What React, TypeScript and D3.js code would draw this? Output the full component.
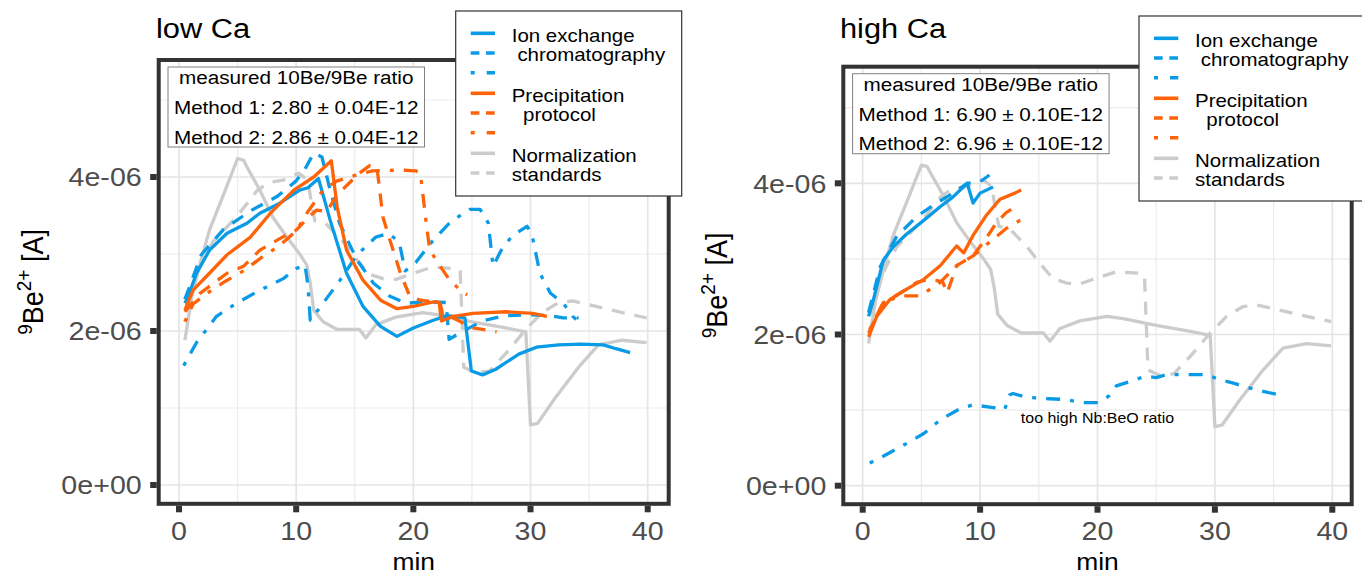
import React from 'react';
import * as d3 from 'd3';

const BLUE = '#0a9be6';
const ORANGE = '#ff6309';
const GREY = '#cccccc';
const FONT = "'Liberation Sans', Arial, Helvetica, sans-serif";
const SX = 1.1; // the original export is a bit stretched horizontally

const xTicks = [0, 10, 20, 30, 40];
const xMinor = [5, 15, 25, 35];
const yTicks = [0, 2, 4];
const yTickLabels = ['0e+00', '2e-06', '4e-06'];
const yMinor = [1, 3, 5];

// [min, 9Be current in 1e-6 A]
// normalization standards, same runs shown in both panels
const normSolid: [number, number][] = [
  [0.5, 1.88], [1.1, 2.45], [1.8, 2.88], [2.6, 3.31], [3.8, 3.77], [5.0, 4.24], [5.5, 4.22],
  [5.8, 4.13], [6.9, 3.83], [8.0, 3.48], [9.2, 3.22], [10.3, 3.0], [10.9, 2.86], [11.2, 2.62],
  [11.5, 2.27], [12.3, 2.12], [13.5, 2.02], [15.4, 2.02], [15.95, 1.91], [16.8, 2.08], [18.5, 2.18],
  [20.8, 2.24], [22.2, 2.21], [25.0, 2.12], [27.9, 2.04], [29.6, 1.99], [30.0, 0.78], [30.6, 0.8],
  [32.1, 1.13], [34.1, 1.53], [35.8, 1.82], [37.8, 1.88], [39.9, 1.85],
];
const normDashed: [number, number][] = [
  [0.6, 2.25], [1.1, 2.55], [2.0, 2.9], [2.9, 3.16], [4.9, 3.48], [6.7, 3.83], [7.7, 3.93],
  [8.9, 3.96], [10.2, 4.05], [11.0, 3.96], [11.3, 3.66], [11.6, 3.43], [12.5, 3.4], [14.0, 3.16],
  [15.1, 2.94], [16.2, 2.74], [17.4, 2.68], [18.5, 2.67], [20.2, 2.76], [21.6, 2.83], [23.6, 2.81],
  [24.0, 2.78], [24.3, 1.53], [25.3, 1.46], [26.5, 1.48], [27.9, 1.71], [29.6, 2.02], [31.0, 2.24],
  [32.4, 2.37], [33.6, 2.39], [35.6, 2.32], [37.8, 2.24], [39.9, 2.17],
];

// low Ca
const ionSolidLow: [number, number][] = [
  [0.5, 2.36], [0.7, 2.42], [1.5, 2.75], [2.6, 3.05], [4.1, 3.27], [5.8, 3.4], [6.9, 3.53],
  [8.6, 3.66], [10.3, 3.83], [11.0, 3.86], [11.9, 3.98], [12.9, 3.44], [14.3, 2.75], [15.7, 2.32],
  [17.2, 2.06], [18.6, 1.93], [20.0, 2.04], [21.7, 2.14], [22.9, 2.2], [24.4, 2.17], [24.95, 1.48],
  [25.9, 1.43], [27.0, 1.5], [29.0, 1.7], [30.5, 1.79], [32.4, 1.82], [34.3, 1.83], [36.2, 1.82],
  [37.3, 1.77], [38.5, 1.72],
];
const ionDashedLow: [number, number][] = [
  [0.5, 2.41], [1.9, 2.99], [3.8, 3.32], [6.1, 3.56], [8.4, 3.75], [10.0, 3.95], [10.7, 4.09],
  [11.5, 4.31], [12.2, 4.26], [12.9, 3.83], [13.7, 3.4], [15.2, 2.92], [16.6, 2.62], [18.0, 2.45],
  [19.4, 2.36], [21.0, 2.38], [22.8, 2.37], [23.05, 1.89], [23.9, 1.97], [25.9, 2.13], [27.8, 2.2],
  [29.7, 2.21], [31.6, 2.2], [32.8, 2.17], [34.1, 2.17],
];
const ionDotdashLow: [number, number][] = [
  [0.4, 1.55], [1.5, 1.85], [3.2, 2.19], [4.9, 2.36], [6.9, 2.53], [8.9, 2.68], [10.0, 2.81],
  [10.75, 2.86], [11.0, 2.6], [11.2, 2.14], [12.0, 2.3], [13.7, 2.65], [15.2, 2.99], [16.8, 3.22],
  [17.9, 3.27], [18.8, 3.15], [19.3, 2.78], [20.2, 2.89], [21.7, 3.18], [23.2, 3.42], [24.8, 3.58],
  [25.7, 3.58], [26.4, 3.4], [26.8, 2.84], [27.5, 3.05], [28.4, 3.23], [29.7, 3.36], [30.1, 3.27],
  [30.8, 2.75], [31.7, 2.49], [32.8, 2.36], [33.6, 2.19], [33.9, 2.15],
];
const precSolidLow: [number, number][] = [
  [0.5, 2.27], [1.2, 2.53], [2.6, 2.75], [4.1, 2.99], [6.1, 3.22], [7.8, 3.53], [9.8, 3.83],
  [11.5, 4.0], [13.0, 4.21], [13.5, 3.61], [14.3, 3.05], [15.7, 2.66], [17.2, 2.4], [18.6, 2.29],
  [20.0, 2.32], [21.8, 2.38], [22.2, 2.37], [22.4, 2.13], [23.4, 2.19], [25.1, 2.23], [27.9, 2.25],
  [30.2, 2.23], [31.4, 2.19],
];
const precDashedLow: [number, number][] = [
  [0.5, 2.25], [1.8, 2.49], [4.1, 2.75], [5.5, 2.84], [6.9, 3.05], [8.6, 3.2], [10.0, 3.31],
  [11.2, 3.5], [11.75, 3.57], [12.6, 3.55], [13.5, 3.77], [15.4, 4.05], [16.3, 4.15], [16.9, 4.12],
  [17.4, 3.48], [18.0, 3.18], [18.9, 2.75], [19.7, 2.45], [20.6, 2.4], [21.7, 2.38], [22.3, 2.36],
  [22.5, 2.2], [23.4, 2.17], [25.1, 2.04], [27.1, 1.99],
];
const precDotdashLow: [number, number][] = [
  [0.5, 2.12], [1.2, 2.35], [2.5, 2.5], [4.0, 2.65], [5.5, 2.78], [7.0, 2.95], [8.5, 3.1],
  [10.0, 3.3], [11.0, 3.55], [12.3, 3.83], [13.5, 3.95], [15.0, 4.02], [16.5, 4.08], [18.9, 4.09],
  [20.2, 4.08], [20.6, 4.05], [20.8, 3.79], [21.1, 3.4], [21.4, 3.05], [22.3, 2.84], [23.1, 2.66],
  [24.3, 2.49], [24.6, 2.47],
];

// high Ca
const ionSolidHigh: [number, number][] = [
  [0.5, 2.24], [0.9, 2.45], [1.75, 2.98], [2.6, 3.16], [3.75, 3.33], [5.2, 3.51], [6.6, 3.69],
  [7.7, 3.82], [8.9, 4.0], [9.4, 3.74], [10.0, 3.87], [11.1, 3.95],
];
const ionDashedHigh: [number, number][] = [
  [0.5, 2.29], [1.5, 2.9], [2.9, 3.3], [4.6, 3.56], [6.3, 3.74], [7.7, 3.87], [8.9, 4.0],
  [10.0, 4.02], [10.8, 4.11],
];
const ionDotdashHigh: [number, number][] = [
  [0.6, 0.3], [1.75, 0.39], [3.75, 0.56], [5.2, 0.69], [6.6, 0.87], [8.3, 1.02], [9.4, 1.07],
  [10.8, 1.04], [12.1, 1.01], [12.5, 1.2], [12.8, 1.22], [13.9, 1.17], [15.9, 1.15], [17.3, 1.14],
  [18.7, 1.1], [20.1, 1.1], [21.0, 1.19], [21.6, 1.32], [23.0, 1.39], [24.1, 1.45], [25.0, 1.43],
  [25.9, 1.47], [27.9, 1.47], [29.3, 1.47], [30.4, 1.4], [31.5, 1.36], [33.0, 1.29], [34.9, 1.22],
  [35.6, 1.2],
];
const precSolidHigh: [number, number][] = [
  [0.5, 1.97], [1.2, 2.24], [2.3, 2.46], [3.75, 2.6], [5.2, 2.73], [6.6, 2.91], [8.0, 3.17],
  [8.6, 3.08], [9.4, 3.31], [10.5, 3.57], [11.7, 3.79], [12.8, 3.86], [13.5, 3.91],
];
const precDashedHigh: [number, number][] = [
  [0.5, 2.02], [1.75, 2.42], [3.2, 2.55], [4.6, 2.69], [5.7, 2.73], [6.8, 2.7], [7.2, 2.55],
  [8.0, 2.91], [9.4, 3.04], [10.5, 3.27], [11.4, 3.48], [12.2, 3.61], [12.8, 3.67],
];
const precDotdashHigh: [number, number][] = [
  [0.6, 2.07], [1.75, 2.42], [3.2, 2.51], [4.9, 2.51], [6.6, 2.69], [8.0, 2.91], [9.4, 3.04],
  [10.8, 3.22], [12.2, 3.4], [13.4, 3.51], [13.8, 3.53],
];

const ratioLow = ['measured 10Be/9Be ratio', 'Method 1: 2.80 ± 0.04E-12', 'Method 2: 2.86 ± 0.04E-12'];
const ratioHigh = ['measured 10Be/9Be ratio', 'Method 1: 6.90 ± 0.10E-12', 'Method 2: 6.96 ± 0.10E-12'];

const legendGroups = [
  { label: ['Ion exchange', ' chromatography'], color: BLUE, styles: ['solid', 'dashed', 'dotdash'] },
  { label: ['Precipitation', '  protocol'], color: ORANGE, styles: ['solid', 'dashed', 'dotdash'] },
  { label: ['Normalization', 'standards'], color: GREY, styles: ['solid', 'dashed'] },
];

const DASH: Record<string, string | undefined> = { solid: undefined, dashed: '13,10', dotdash: '4,10,14,10' };
const KEY_DASH: Record<string, string | undefined> = { solid: undefined, dashed: '8.7,6.6', dotdash: '4,12,9,12' };

const lowSeries = [
  { data: normSolid, color: GREY, style: 'solid' },
  { data: normDashed, color: GREY, style: 'dashed' },
  { data: ionSolidLow, color: BLUE, style: 'solid' },
  { data: ionDashedLow, color: BLUE, style: 'dashed' },
  { data: ionDotdashLow, color: BLUE, style: 'dotdash' },
  { data: precSolidLow, color: ORANGE, style: 'solid' },
  { data: precDashedLow, color: ORANGE, style: 'dashed' },
  { data: precDotdashLow, color: ORANGE, style: 'dotdash' },
];
const highSeries = [
  { data: normSolid, color: GREY, style: 'solid' },
  { data: normDashed, color: GREY, style: 'dashed' },
  { data: ionSolidHigh, color: BLUE, style: 'solid' },
  { data: ionDashedHigh, color: BLUE, style: 'dashed' },
  { data: ionDotdashHigh, color: BLUE, style: 'dotdash' },
  { data: precSolidHigh, color: ORANGE, style: 'solid' },
  { data: precDashedHigh, color: ORANGE, style: 'dashed' },
  { data: precDotdashHigh, color: ORANGE, style: 'dotdash' },
];

const panels = [
  {
    title: 'low Ca', titleX: 156, titleY: 37.5,
    frame: { l: 158.7, r: 668.7, t: 60, b: 503.8 },
    xRange: [179, 647.7], yRange: [485, 177],
    series: lowSeries, ratio: ratioLow,
    legend: { x: 455.7, y: 11 }, yLabelX: 42.7, note: null,
  },
  {
    title: 'high Ca', titleX: 840, titleY: 38,
    frame: { l: 843.3, r: 1351.7, t: 66.7, b: 504.2 },
    xRange: [862.7, 1332.3], yRange: [485.7, 183.3],
    series: highSeries, ratio: ratioHigh,
    legend: { x: 1139, y: 16 }, yLabelX: 727.3,
    note: { x: 20, y: 0.9, text: 'too high Nb:BeO ratio' },
  },
];

function Txt({ x, y, size, anchor = 'start', fill = '#000', children }: any) {
  return (
    <text transform={`translate(${x},${y}) scale(${SX},1)`} fontSize={size} textAnchor={anchor}
      fill={fill} fontFamily={FONT} style={{ whiteSpace: 'pre' }}>
      {children}
    </text>
  );
}

function Legend({ x, y }: { x: number; y: number }) {
  return (
    <g transform={`translate(${x},${y})`}>
      <rect width={226} height={185} fill="#fff" stroke="#333" strokeWidth={1.2} />
      {legendGroups.map((g, gi) => {
        const top = 22.3 + gi * 60;
        return (
          <g key={gi}>
            {g.styles.map((s, j) => (
              <line key={s} x1={15} x2={39.3} y1={top + j * 19.7} y2={top + j * 19.7}
                stroke={g.color} strokeWidth={3.6} strokeDasharray={KEY_DASH[s]} />
            ))}
            {g.label.map((l, j) => (
              <Txt key={j} x={56} y={top + j * 19.7 + 8.3} size={18.6}>{l}</Txt>
            ))}
          </g>
        );
      })}
    </g>
  );
}

function Panel({ p }: { p: any }) {
  const x = d3.scaleLinear().domain([0, 40]).range(p.xRange);
  const y = d3.scaleLinear().domain([0, 4]).range(p.yRange);
  const line = d3.line<[number, number]>().x(d => x(d[0])).y(d => y(d[1]));
  const f = p.frame;
  const boxX = f.l + 9.3;
  const boxY = f.t + 7;

  return (
    <g>
      <Txt x={p.titleX} y={p.titleY} size={28}>{p.title}</Txt>

      {/* grid */}
      {xMinor.map(v => <line key={'xm' + v} x1={x(v)} x2={x(v)} y1={f.t} y2={f.b} stroke="#ebebeb" strokeWidth={1.2} />)}
      {yMinor.map(v => <line key={'ym' + v} x1={f.l} x2={f.r} y1={y(v)} y2={y(v)} stroke="#ebebeb" strokeWidth={1.2} />)}
      {xTicks.map(v => <line key={'xg' + v} x1={x(v)} x2={x(v)} y1={f.t} y2={f.b} stroke="#e5e5e5" strokeWidth={1.7} />)}
      {yTicks.map(v => <line key={'yg' + v} x1={f.l} x2={f.r} y1={y(v)} y2={y(v)} stroke="#e5e5e5" strokeWidth={1.7} />)}

      {p.series.map((s: any, i: number) => (
        <path key={i} d={line(s.data) || ''} fill="none" stroke={s.color} strokeWidth={3.3}
          strokeDasharray={DASH[s.style]} strokeLinejoin="round" />
      ))}

      {p.note && (
        <Txt x={x(p.note.x)} y={y(p.note.y) + 5.2} size={14.5} anchor="middle">{p.note.text}</Txt>
      )}

      {/* ratio box */}
      <rect x={boxX} y={boxY} width={256.5} height={80} fill="#fff" stroke="#808080" strokeWidth={1} />
      {p.ratio.map((t: string, i: number) => (
        <Txt key={i} x={boxX + 128.2} y={boxY + [17, 47, 76.5][i]} size={18.8} anchor="middle">{t}</Txt>
      ))}

      <rect x={f.l} y={f.t} width={f.r - f.l} height={f.b - f.t} fill="none" stroke="#333" strokeWidth={4} />

      {/* axes */}
      {xTicks.map(v => (
        <g key={'xt' + v}>
          <line x1={x(v)} x2={x(v)} y1={f.b + 2} y2={f.b + 8.5} stroke="#333" strokeWidth={6} />
          <Txt x={x(v)} y={540} size={26} anchor="middle" fill="#4d4d4d">{String(v)}</Txt>
        </g>
      ))}
      {yTicks.map((v, i) => (
        <g key={'yt' + v}>
          <line x1={f.l - 2} x2={f.l - 8.5} y1={y(v)} y2={y(v)} stroke="#333" strokeWidth={6} />
          <Txt x={f.l - 17} y={y(v) + 9.3} size={26} anchor="end" fill="#4d4d4d">{yTickLabels[i]}</Txt>
        </g>
      ))}
      <Txt x={(f.l + f.r) / 2} y={569.5} size={24} anchor="middle">min</Txt>
      <text transform={`translate(${p.yLabelX},${(f.t + f.b) / 2}) scale(${SX},1) rotate(-90)`}
        textAnchor="middle" fontFamily={FONT} fontSize={27}>
        <tspan fontSize={19} dy={-10}>9</tspan>
        <tspan dy={10}>Be</tspan>
        <tspan fontSize={19} dy={-11}>2+</tspan>
        <tspan dy={11}> [A]</tspan>
      </text>

      <Legend x={p.legend.x} y={p.legend.y} />
    </g>
  );
}

export default function App() {
  return (
    <svg width={1362} height={575} style={{ position: 'absolute', left: 0, top: 0, background: '#fff' }}>
      {panels.map((p, i) => <Panel key={i} p={p} />)}
    </svg>
  );
}
